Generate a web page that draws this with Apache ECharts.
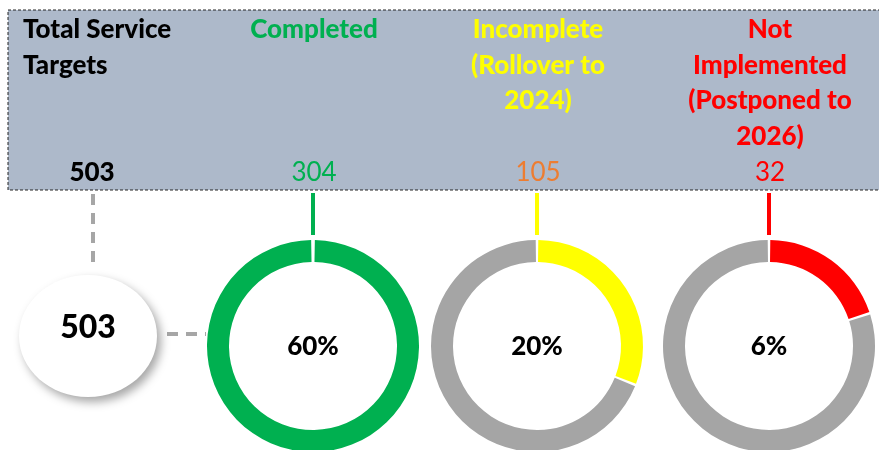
<!DOCTYPE html>
<html><head><meta charset="utf-8">
<script src="https://cdn.jsdelivr.net/npm/echarts@6/dist/echarts.min.js"></script>
<style>html,body{margin:0;padding:0;background:#fff}#c{width:879px;height:450px}</style>
</head><body><div id="c"></div>
<script>
// ---- data ----
const totalLabel = 'Total Service\nTargets';
const totalValue = 503;
const categories = ['Completed', 'Incomplete\n(Rollover to\n2024)', 'Not\nImplemented\n(Postponed to\n2026)'];
const counts = [304, 105, 32];
const percentLabels = ['60%', '20%', '6%'];
// share of each ring that is coloured (percent)
const ringShares = [100, 31, 20];

// ---- styles ----
const catColors = ['#00B050', '#FFFF00', '#FF0000'];
const countColors = ['#00B050', '#ED7D31', '#FF0000'];
const restColor = '#A5A5A5';
const colX = [314, 538, 770];
const font = 'Lato, "Open Sans", sans-serif';
const hdr = '900 26px ' + font;

const chart = echarts.init(document.getElementById('c'));
const graphics = [];
graphics.push({type:'rect', shape:{x:8,y:10,width:880,height:180}, style:{fill:'#ADB9CA', stroke:'#222', lineWidth:1, lineDash:[3,2]}, z:0});
graphics.push({type:'text', x:23, y:12, style:{text:totalLabel, font:hdr, fill:'#000', lineHeight:35.5, textAlign:'left', textVerticalAlign:'top'}, z:2});
graphics.push({type:'text', x:92, y:173, style:{text:String(totalValue), font:hdr, fill:'#000', textAlign:'center', textVerticalAlign:'middle'}, z:2});
categories.forEach((c,i)=>{
  graphics.push({type:'text', x:colX[i], y:12, style:{text:c, font:hdr, fill:catColors[i], lineHeight:35.5, textAlign:'center', textVerticalAlign:'top'}, z:2});
  graphics.push({type:'text', x:colX[i], y:173, style:{text:String(counts[i]), font:'26px '+font, fill:countColors[i], textAlign:'center', textVerticalAlign:'middle'}, z:2});
  graphics.push({type:'line', shape:{x1:colX[i]-1, y1:193, x2:colX[i]-1, y2:235}, style:{stroke:catColors[i], lineWidth:4}, z:2});
  graphics.push({type:'text', x:colX[i]-1, y:347, style:{text:percentLabels[i], font:'900 26px '+font, fill:'#000', textAlign:'center', textVerticalAlign:'middle'}, z:5});
});
// connectors for total
graphics.push({type:'line', shape:{x1:93,y1:194,x2:93,y2:266}, style:{stroke:'#A6A6A6', lineWidth:4, lineDash:[11,8]}, z:2});
graphics.push({type:'line', shape:{x1:167,y1:334,x2:206,y2:334}, style:{stroke:'#A6A6A6', lineWidth:4, lineDash:[11,8]}, z:2});
graphics.push({type:'ellipse', shape:{cx:88, cy:336, rx:69, ry:61}, style:{fill:'#fff', shadowBlur:10, shadowOffsetX:4, shadowOffsetY:5, shadowColor:'rgba(0,0,0,0.35)'}, z:3});
graphics.push({type:'text', x:88, y:328, style:{text:String(totalValue), font:'900 32px '+font, fill:'#000', textAlign:'center', textVerticalAlign:'middle'}, z:4});

const series = ringShares.map((s,i)=>{
  const data = s >= 100 ? [{value:s, itemStyle:{color:catColors[i]}}]
    : [{value:s, itemStyle:{color:catColors[i]}}, {value:100-s, itemStyle:{color:restColor}}];
  const base = {type:'pie', center:[colX[i]-1,346], radius:[84,106], clockwise:true, silent:true,
    label:{show:false}, labelLine:{show:false}, data:data, animation:false};
  if (s >= 100) { base.startAngle = 89; base.endAngle = -269; }
  else { base.startAngle = 90; base.padAngle = 1.4; }
  return base;
});

chart.setOption({animation:false, graphic:{elements:graphics}, series:series});
</script></body></html>
